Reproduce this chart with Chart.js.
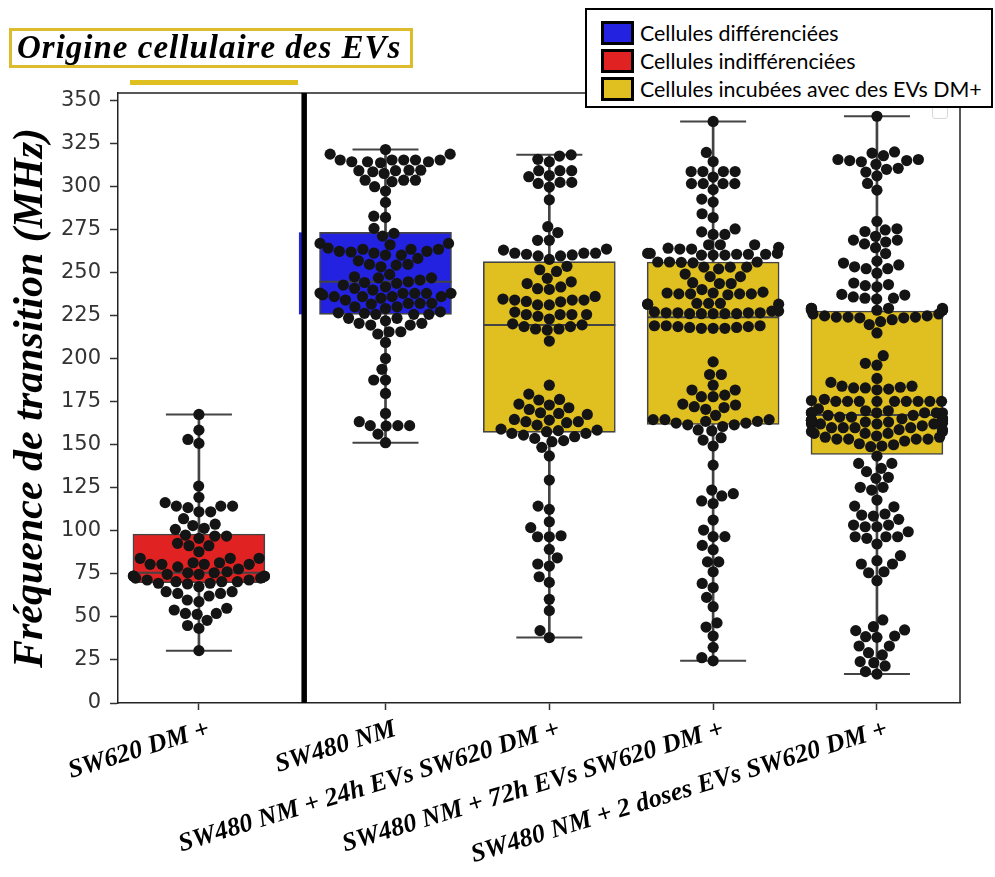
<!DOCTYPE html>
<html>
<head>
<meta charset="utf-8">
<script src="https://cdn.jsdelivr.net/npm/chart.js@4.4.0/dist/chart.umd.min.js"></script>
<style>
  body { margin: 0; background: #fff; }
  #wrap { position: relative; width: 995px; height: 877px; overflow: hidden; }
  #chart { position: absolute; left: 0; top: 0; }
  #evTitle { position: absolute; left: 9px; top: 28px; width: 404px; height: 40px; box-sizing: border-box;
    border: 3px solid #dcbc2c; font: italic bold 33px "Liberation Serif"; letter-spacing: 1px; line-height: 33px;
    padding-left: 5px; color: #000; white-space: nowrap; }
  #evBar { position: absolute; left: 130px; top: 80px; width: 168px; height: 5px; background: #e0c020; }
  #ghost { position: absolute; left: 932px; top: 104px; width: 16px; height: 15px; box-sizing: border-box;
    border: 1px solid #d8d8d8; border-radius: 3px; background: #fff; }
  #legend { position: absolute; left: 585px; top: 8px; width: 408px; height: 100px; box-sizing: border-box;
    border: 2px solid #000; background: #fff; }
  .lrow { position: absolute; left: 14px; height: 24px; display: flex; align-items: center; }
  .sw { width: 33px; height: 24px; box-sizing: border-box; border: 3px solid #000; margin-right: 6px; }
  .lt { font: 21.4px Lato; color: #000; white-space: nowrap; }
</style>
</head>
<body>
<div id="wrap">
  <canvas id="chart" width="995" height="877"></canvas>
  <div id="evTitle">Origine cellulaire des EVs</div>
  <div id="evBar"></div>
  <div id="ghost"></div>
  <div id="legend"></div>
</div>
<script>
// categories (x tick labels)
var groupLabels = ['SW620 DM +', 'SW480 NM', 'SW480 NM + 24h EVs SW620 DM +',
                   'SW480 NM + 72h EVs SW620 DM +', 'SW480 NM + 2 doses EVs SW620 DM +'];

// box statistics (MHz)
var whiskLo = [30.4, 151.1, 38.0, 24.5, 16.8];
var boxQ1   = [69.8, 225.6, 157.1, 161.7, 144.3];
var boxMed  = [75.6, 244.5, 219.4, 223.9, 167.2];
var boxQ3   = [98.1, 273.2, 256.2, 256.0, 227.5];
var whiskHi = [167.5, 321.3, 318.2, 337.6, 340.6];

// individual measurements (swarm points)
var ptsSW620 = [167.5, 158.4, 153.0, 150.7, 125.9, 119.4, 116.3, 114.3, 111.0, 114.3, 111.0, 113.4, 114.3,
  107.0, 103.0, 103.8, 100.8, 101.4, 97.5, 96.9, 96.9, 95.6, 92.7, 91.3, 91.3, 87.8, 84.0, 84.0, 84.0,
  81.4, 80.5, 80.5, 80.5, 80.5, 79.0, 81.4, 77.8, 75.6, 75.6, 76.2, 74.7, 74.7, 73.7, 73.7, 72.5, 73.7,
  72.5, 73.5, 71.4, 70.4, 70.4, 69.5, 69.1, 70.4, 69.5, 71.4, 67.5, 64.6, 63.6, 63.6, 64.6, 59.8, 58.8,
  62.1, 54.0, 55.0, 52.0, 52.0, 51.5, 48.0, 45.0, 43.3, 30.4];

var ptsSW480 = [321.3, 318.6, 318.6, 315.2, 315.2, 315.2, 314.2, 313.6, 314.2, 314.2, 315.2, 315.2, 309.3,
  308.4, 309.3, 309.0, 307.4, 309.0, 303.5, 303.5, 302.6, 303.5, 299.7, 297.2, 290.6, 282.6, 281.9, 275.5,
  272.6, 271.0, 266.8, 266.8, 263.4, 262.2, 261.2, 262.2, 264.1, 263.4, 261.8, 263.4, 266.0, 260.0, 260.0,
  258.1, 256.7, 254.6, 254.2, 254.6, 253.2, 247.4, 246.8, 248.8, 246.8, 245.5, 244.5, 243.6, 244.1, 242.6,
  241.6, 239.7, 240.7, 238.0, 237.8, 235.9, 235.0, 236.9, 235.9, 237.8, 235.9, 235.9, 237.8, 237.8, 233.9,
  232.0, 232.0, 231.6, 232.0, 229.0, 230.0, 230.0, 226.5, 225.6, 225.6, 226.2, 227.1, 225.6, 223.3, 223.3,
  221.9, 220.4, 219.4, 219.4, 220.4, 215.5, 215.5, 214.2, 209.3, 200.0, 193.7, 187.5, 187.5, 179.7, 168.1,
  163.3, 161.0, 161.0, 161.0, 160.8, 156.1, 151.1];

var pts24h = [318.2, 317.5, 315.6, 314.2, 309.0, 309.0, 309.0, 306.2, 305.5, 302.2, 301.6, 302.2, 299.5,
  292.1, 276.5, 273.1, 268.6, 268.6, 263.5, 261.1, 261.1, 260.1, 259.5, 261.1, 259.5, 260.5, 262.9, 257.5,
  253.5, 251.5, 250.5, 246.5, 244.5, 243.5, 240.5, 240.1, 241.5, 234.5, 233.9, 233.1, 232.9, 233.9, 233.9,
  231.1, 231.1, 236.0, 226.9, 225.5, 224.5, 222.9, 225.5, 225.5, 225.5, 220.1, 218.5, 217.1, 216.5, 217.1,
  218.5, 219.5, 210.1, 184.5, 179.3, 175.9, 176.2, 173.5, 173.0, 171.4, 170.4, 168.5, 168.1, 167.5, 164.6,
  163.3, 162.7, 164.2, 163.3, 161.3, 157.5, 155.5, 153.6, 156.5, 158.4, 159.0, 154.6, 156.5, 158.1, 151.7,
  152.3, 148.4, 143.4, 129.4, 114.3, 112.4, 105.2, 101.8, 96.5, 96.5, 97.1, 89.2, 84.3, 80.7, 79.5, 73.3,
  70.0, 60.2, 53.6, 42.0, 38.0];

var pts72h = [337.6, 319.6, 314.3, 308.5, 308.5, 308.5, 308.5, 305.3, 301.5, 301.5, 301.5, 301.5, 298.0,
  292.5, 290.8, 284.0, 281.8, 275.2, 273.5, 272.0, 272.0, 266.0, 266.0, 266.0, 264.5, 264.0, 263.5, 263.5,
  261.0, 260.5, 260.5, 260.0, 261.0, 260.5, 261.0, 260.0, 260.0, 256.0, 255.5, 256.0, 255.8, 256.0, 253.0,
  253.0, 253.0, 252.0, 249.0, 247.5, 247.5, 244.0, 243.5, 243.5, 240.0, 238.5, 238.0, 237.5, 237.5, 237.5,
  237.5, 238.0, 237.0, 232.0, 232.0, 231.5, 231.5, 231.5, 232.0, 227.5, 226.5, 226.0, 226.0, 226.5, 226.5,
  226.0, 226.0, 227.0, 226.5, 227.5, 226.0, 219.0, 218.5, 218.0, 217.5, 217.5, 217.5, 218.0, 218.5, 219.0,
  219.0, 198.0, 190.7, 190.7, 184.5, 181.7, 181.7, 178.7, 177.8, 177.8, 173.0, 172.0, 171.5, 170.5, 173.5,
  167.0, 164.5, 163.5, 162.5, 161.5, 160.5, 158.5, 164.5, 163.5, 161.5, 162.5, 164.5, 158.0, 152.6, 154.0,
  149.2, 138.1, 123.6, 121.5, 120.2, 117.3, 115.8, 106.2, 100.4, 96.6, 96.6, 91.5, 89.0, 81.9, 81.9, 76.2,
  69.4, 67.0, 61.3, 55.9, 46.5, 44.1, 38.9, 32.3, 26.3, 24.5];

var pts2doses = [340.6, 319.9, 319.2, 317.7, 314.2, 315.5, 314.9, 314.9, 315.5, 312.7, 310.4, 309.8, 308.2,
  306.0, 301.6, 297.7, 279.6, 275.3, 273.7, 274.6, 270.9, 268.7, 268.7, 267.6, 266.5, 264.3, 260.9, 256.5,
  255.4, 254.3, 253.2, 252.1, 252.1, 249.5, 243.8, 242.9, 241.6, 242.3, 237.2, 235.0, 234.5, 235.7, 236.8,
  235.0, 229.1, 228.4, 228.0, 228.0, 229.1, 228.4, 228.0, 228.0, 229.1, 229.1, 224.0, 222.5, 221.4, 223.6,
  223.6, 225.8, 224.7, 224.0, 224.7, 225.8, 224.0, 219.7, 214.8, 201.6, 197.2, 196.1, 188.4, 186.1, 182.9,
  183.9, 182.9, 182.2, 181.8, 183.3, 183.9, 175.1, 175.6, 175.1, 175.1, 175.1, 175.1, 175.1, 175.1, 175.1,
  175.1, 176.3, 170.7, 169.6, 168.5, 168.5, 169.6, 168.5, 168.5, 168.5, 168.5, 168.5, 164.1, 162.4, 163.1,
  162.0, 164.1, 165.2, 164.1, 162.0, 162.0, 163.1, 162.0, 167.0, 166.0, 165.0, 164.0, 167.0, 166.0, 165.0,
  164.0, 159.8, 158.7, 157.6, 158.7, 157.6, 159.8, 159.8, 159.8, 160.9, 156.5, 155.0, 154.3, 153.2, 152.1,
  153.2, 153.2, 153.2, 154.3, 156.5, 156.5, 149.9, 150.5, 149.2, 148.8, 143.3, 139.1, 136.2, 139.1, 134.3,
  131.0, 130.4, 125.2, 125.2, 123.6, 117.8, 113.9, 114.3, 109.7, 109.1, 106.6, 108.5, 103.3, 102.3, 103.3,
  102.3, 99.4, 96.5, 95.6, 96.5, 96.5, 92.3, 85.5, 82.6, 80.7, 80.7, 75.6, 76.2, 71.0, 48.2, 44.3, 42.0,
  42.4, 38.1, 38.5, 38.9, 33.1, 33.1, 29.2, 27.9, 23.4, 24.0, 21.5, 18.2, 16.8];

var groupPoints = [ptsSW620, ptsSW480, pts24h, pts72h, pts2doses];

var legendLabels = ['Cellules différenciées', 'Cellules indifférenciées', 'Cellules incubées avec des EVs DM+'];

// layout / style (not data)
var xPos = [-0.139, 1, 2, 3, 4];        // category centres on the linear x scale
var splitAt = 0.502;                    // thick separator between the two panels
var boxColors = ['#e02222', '#2222e0', '#e0c020', '#e0c020', '#e0c020'];
var legendColors = ['#2222e0', '#e02222', '#e0c020'];
var edgeCol = '#444444';
var dotR = 5.6;
var swarmHalf = 65.5;   // px, half width of a swarm

// legend (html)
var lg = document.getElementById('legend');
legendLabels.forEach(function(t, i){
  var row = document.createElement('div');
  row.className = 'lrow';
  row.style.top = (11 + i * 28) + 'px';
  row.innerHTML = '<div class="sw" style="background:' + legendColors[i] + '"></div><span class="lt">' + t + '</span>';
  lg.appendChild(row);
});

// seaborn like beeswarm in pixel space, returns x offsets (px)
function beeswarm(py, r, half){
  var order = py.map(function(v, i){ return i; }).sort(function(a, b){ return py[b] - py[a]; });
  var placed = [], out = [];
  var d = 2 * r;
  order.forEach(function(i){
    var y = py[i];
    var near = placed.filter(function(p){ return Math.abs(p.y - y) < d; });
    var cands = [0], leftFirst = true;
    near.forEach(function(p){
      var dx = Math.sqrt(Math.max(d * d - (p.y - y) * (p.y - y), 0)) * 1.05;
      if (leftFirst) { cands.push(p.x - dx, p.x + dx); } else { cands.push(p.x + dx, p.x - dx); }
      leftFirst = !leftFirst;
    });
    var idx = cands.map(function(c, k){ return k; });
    idx.sort(function(a, b){ return Math.abs(cands[a]) - Math.abs(cands[b]) || a - b; });
    var x = 0;
    for (var k = 0; k < idx.length; k++) {
      var c = cands[idx[k]];
      var ok = near.every(function(p){ return (p.x - c) * (p.x - c) + (p.y - y) * (p.y - y) >= d * d - 0.01; });
      if (ok) { x = c; break; }
    }
    placed.push({x: x, y: y});
    out[i] = Math.max(-half, Math.min(half, x));
  });
  return out;
}

var framePlugin = {
  id: 'frame',
  afterDatasetsDraw: function(chart){
    var a = chart.chartArea, c = chart.ctx, xs = chart.scales.x, ys = chart.scales.y;
    c.save();
    // blue sliver left of the separator (splice remnant)
    var sx = xs.getPixelForValue(splitAt);
    c.fillStyle = '#2222e0';
    c.fillRect(sx - 5, ys.getPixelForValue(boxQ3[1]), 3, ys.getPixelForValue(boxQ1[1]) - ys.getPixelForValue(boxQ3[1]));
    c.strokeStyle = '#222';
    c.lineWidth = 1.5;
    c.beginPath();
    c.moveTo(a.left, a.top); c.lineTo(a.right, a.top); c.lineTo(a.right, a.bottom);
    c.stroke();
    c.fillStyle = '#000';
    c.fillRect(sx - 2.5, a.top, 5.5, a.bottom - a.top);
    c.restore();
  }
};

var serifBI = {family: 'Liberation Serif', style: 'italic', weight: 'bold'};

var datasets = [
  { type: 'bar', label: 'whiskers', order: 4, grouped: false, barThickness: 2,
    backgroundColor: edgeCol, borderWidth: 0,
    data: xPos.map(function(x, i){ return {x: x, y: [whiskLo[i], whiskHi[i]]}; }) },
  { type: 'bar', label: 'boxes', order: 3, grouped: false, barThickness: 132,
    backgroundColor: boxColors, borderColor: edgeCol, borderWidth: 1.6, borderSkipped: false,
    data: xPos.map(function(x, i){ return {x: x, y: [boxQ1[i], boxQ3[i]]}; }) },
  { type: 'scatter', label: 'medians', order: 2, pointStyle: 'line', pointRadius: 66,
    borderColor: edgeCol, pointBorderWidth: 2,
    data: xPos.map(function(x, i){ return {x: x, y: boxMed[i]}; }) },
  { type: 'scatter', label: 'caps', order: 2, pointStyle: 'line', pointRadius: 33,
    borderColor: edgeCol, pointBorderWidth: 2,
    data: xPos.map(function(x, i){ return {x: x, y: whiskLo[i]}; })
      .concat(xPos.map(function(x, i){ return {x: x, y: whiskHi[i]}; })) }
];
var dotStart = datasets.length;
groupPoints.forEach(function(vals, g){
  datasets.push({ type: 'scatter', label: groupLabels[g], order: 1, pointRadius: dotR,
    backgroundColor: '#141414', borderColor: '#141414', pointBorderWidth: 0,
    data: vals.map(function(v){ return {x: xPos[g], y: v}; }) });
});

var chart = new Chart(document.getElementById('chart'), {
  type: 'scatter',
  data: { datasets: datasets },
  options: {
    responsive: false,
    animation: false,
    layout: { autoPadding: false, padding: { left: 0, right: 35, top: 93, bottom: 0 } },
    plugins: { legend: { display: false }, tooltip: { enabled: false } },
    scales: {
      x: {
        type: 'linear', min: -0.633, max: 4.507, offset: false,
        afterBuildTicks: function(axis){ axis.ticks = xPos.map(function(v){ return {value: v}; }); },
        afterFit: function(axis){ axis.height = 174; axis.paddingLeft = 0; axis.paddingRight = 0; },
        ticks: {
          autoSkip: false, minRotation: 17, maxRotation: 17, padding: 4, labelOffset: 10, color: '#000',
          font: Object.assign({size: 26}, serifBI),
          callback: function(v, i){ return groupLabels[i]; }
        },
        grid: { offset: false, drawOnChartArea: false, drawTicks: true, tickLength: 7, tickColor: '#333', tickWidth: 1.5 },
        border: { display: true, color: '#222', width: 1.5 }
      },
      y: {
        min: 0, max: 354.1,
        afterFit: function(axis){ axis.width = 118; },
        ticks: { stepSize: 25, includeBounds: false, padding: 9, color: '#333',
                 font: {family: 'DejaVu Sans', size: 21} },
        grid: { drawOnChartArea: false, drawTicks: true, tickLength: 8, tickColor: '#333', tickWidth: 1.5 },
        border: { display: true, color: '#222', width: 1.5 },
        title: { display: true, text: 'Fréquence de transition (MHz)', color: '#000',
                 font: Object.assign({size: 42}, serifBI), padding: {top: 6, bottom: 0} }
      }
    }
  },
  plugins: [framePlugin]
});

// lay out the swarms using the chart's own scales
(function(){
  var xs = chart.scales.x, ys = chart.scales.y;
  var pxUnit = xs.getPixelForValue(1) - xs.getPixelForValue(0);
  groupPoints.forEach(function(vals, g){
    var py = vals.map(function(v){ return ys.getPixelForValue(v); });
    var off = beeswarm(py, dotR, swarmHalf);
    chart.data.datasets[dotStart + g].data = vals.map(function(v, k){ return {x: xPos[g] + off[k] / pxUnit, y: v}; });
  });
  chart.update('none');
})();
</script>
</body>
</html>
